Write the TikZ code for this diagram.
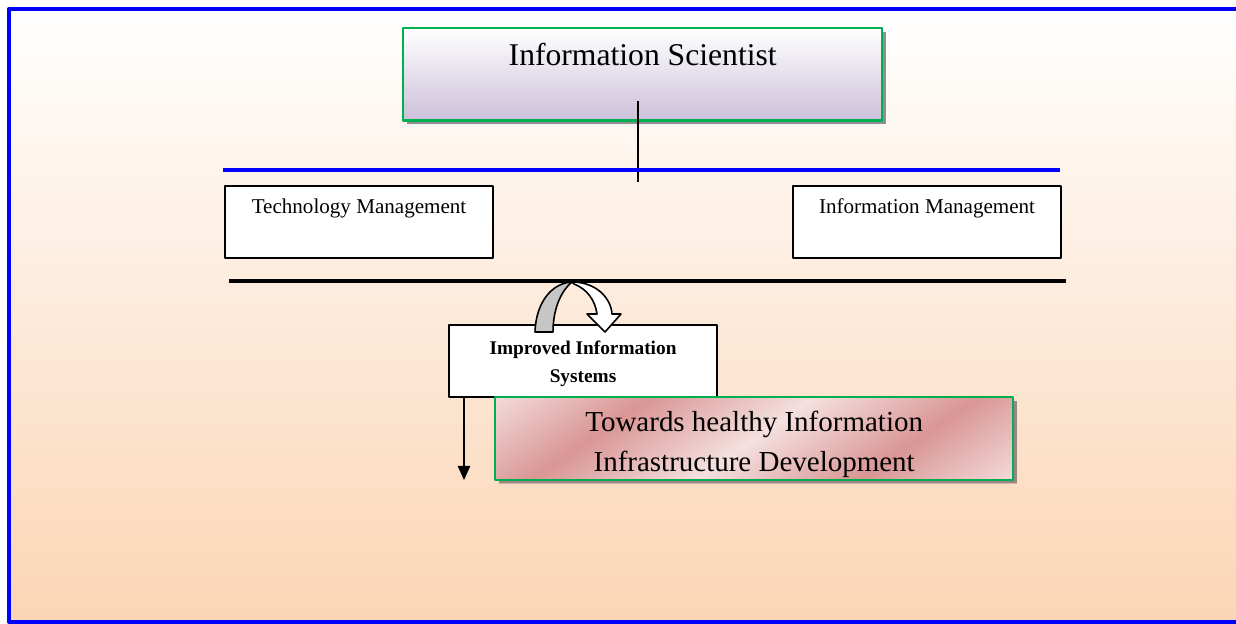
\documentclass[tikz,border=0pt]{standalone}
\usepackage{fontspec}
\setmainfont{Liberation Serif}
\usetikzlibrary{arrows.meta,shadows}
\definecolor{peach}{RGB}{251,213,181}
\definecolor{lavender}{RGB}{204,192,218}
\definecolor{boxgreen}{RGB}{0,176,80}
\definecolor{pinkD}{RGB}{217,150,148}
\definecolor{pinkL}{RGB}{244,224,223}
\definecolor{pinkshadow}{RGB}{176,140,134}
\pgfdeclarehorizontalshading{pinkband}{100bp}{color(0bp)=(pinkL); color(14bp)=(pinkL); color(32bp)=(pinkD); color(50bp)=(pinkL); color(68bp)=(pinkD); color(86bp)=(pinkL); color(100bp)=(pinkL)}
\begin{document}
\begin{tikzpicture}[x=0.02cm, y=-0.02cm, line join=round, >=stealth,
    plainbox/.style={draw, line width=1.2pt, fill=white, inner sep=0pt, minimum width=5.36cm, anchor=north west},
    greenbox/.style={draw=boxgreen, line width=1.4pt, inner sep=0pt, anchor=north west,
        drop shadow={shadow xshift=2pt, shadow yshift=-2pt, opacity=1}}]
    \useasboundingbox (0,0) rectangle (1236,624);
    \shade[top color=white, bottom color=peach] (9,9) rectangle (1236,622);
    \draw[blue, line width=2.3pt] (1236,9) -- (9,9) -- (9,622) -- (1236,622);
    % top
    \node[greenbox, top color=white, bottom color=lavender, drop shadow={fill=gray!75},
        minimum width=9.58cm, text height=21.5pt, text depth=31pt,
        font=\fontsize{18}{22}\selectfont] (sci) at (402,27) {Information Scientist};
    \coordinate (stemtop) at (638,101);
    \coordinate (stembot) at (638,182);
    \draw[line width=0.8pt] (stemtop) -- (stembot);
    \draw[blue, line width=2.3pt] (223,170) -- (1060,170);
    \node[plainbox, text height=15.9pt, text depth=24.9pt, font=\fontsize{12}{14}\selectfont] (tech) at (224,185) {Technology Management};
    \node[plainbox, text height=15.9pt, text depth=24.9pt, font=\fontsize{12}{14}\selectfont] (info) at (792,185) {Information Management};
    \draw[line width=2.1pt] (229,281) -- (1066,281);
    % middle
    \node[plainbox, text height=32.9pt, text depth=7.9pt, align=center, font=\bfseries\fontsize{11}{16.4}\selectfont] (isys) at (448,324) {Improved Information\\Systems};
    \filldraw[fill=gray!45, line width=0.9pt] (535,332) .. controls (536,302) and (552,283) .. (572,282)
        .. controls (563,289) and (553,306) .. (553,332) -- cycle;
    \filldraw[fill=white, line width=0.9pt] (572,282) .. controls (596,282) and (611,298) .. (612,314)
        -- (621,314) -- (605,332) -- (587,314) -- (597,314) .. controls (595,300) and (587,289) .. (574,284) -- cycle;
    \coordinate (dropend) at (464,480);
    \draw[line width=0.9pt, -{Triangle[width=7pt,length=8pt]}] (isys.south -| dropend) -- (dropend);
    % bottom
    \node[greenbox, shading=pinkband, shading angle=-55, drop shadow={fill=pinkshadow},
        minimum width=10.36cm, text height=42pt, text depth=5.1pt, align=center,
        font=\fontsize{16.5}{22.7}\selectfont] (health) at (494,396) {Towards healthy Information\\Infrastructure Development};
\end{tikzpicture}
\end{document}
